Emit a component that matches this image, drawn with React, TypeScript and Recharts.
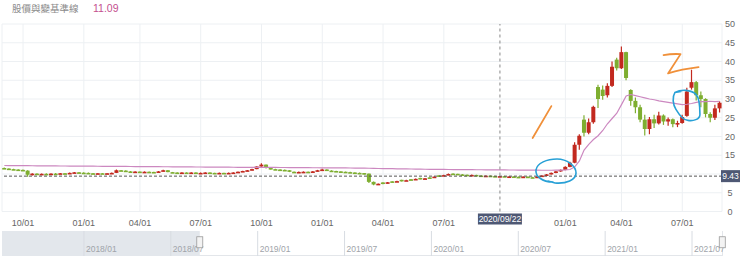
import {
  Area,
  Bar,
  CartesianGrid,
  ComposedChart,
  Line,
  ReferenceDot,
  ReferenceLine,
  XAxis,
  YAxis,
} from "recharts"

// 週 K（週一日期），略過 2019/02/04、2021/02/08 兩個春節休市週
const weeks = [
  "2018/09/03", "2018/09/10", "2018/09/17", "2018/09/24", "2018/10/01", "2018/10/08", "2018/10/15", "2018/10/22", "2018/10/29", "2018/11/05",
  "2018/11/12", "2018/11/19", "2018/11/26", "2018/12/03", "2018/12/10", "2018/12/17", "2018/12/24", "2018/12/31", "2019/01/07", "2019/01/14",
  "2019/01/21", "2019/01/28", "2019/02/11", "2019/02/18", "2019/02/25", "2019/03/04", "2019/03/11", "2019/03/18", "2019/03/25", "2019/04/01",
  "2019/04/08", "2019/04/15", "2019/04/22", "2019/04/29", "2019/05/06", "2019/05/13", "2019/05/20", "2019/05/27", "2019/06/03", "2019/06/10",
  "2019/06/17", "2019/06/24", "2019/07/01", "2019/07/08", "2019/07/15", "2019/07/22", "2019/07/29", "2019/08/05", "2019/08/12", "2019/08/19",
  "2019/08/26", "2019/09/02", "2019/09/09", "2019/09/16", "2019/09/23", "2019/09/30", "2019/10/07", "2019/10/14", "2019/10/21", "2019/10/28",
  "2019/11/04", "2019/11/11", "2019/11/18", "2019/11/25", "2019/12/02", "2019/12/09", "2019/12/16", "2019/12/23", "2019/12/30", "2020/01/06",
  "2020/01/13", "2020/01/20", "2020/01/27", "2020/02/03", "2020/02/10", "2020/02/17", "2020/02/24", "2020/03/02", "2020/03/09", "2020/03/16",
  "2020/03/23", "2020/03/30", "2020/04/06", "2020/04/13", "2020/04/20", "2020/04/27", "2020/05/04", "2020/05/11", "2020/05/18", "2020/05/25",
  "2020/06/01", "2020/06/08", "2020/06/15", "2020/06/22", "2020/06/29", "2020/07/06", "2020/07/13", "2020/07/20", "2020/07/27", "2020/08/03",
  "2020/08/10", "2020/08/17", "2020/08/24", "2020/08/31", "2020/09/07", "2020/09/14", "2020/09/21", "2020/09/28", "2020/10/05", "2020/10/12",
  "2020/10/19", "2020/10/26", "2020/11/02", "2020/11/09", "2020/11/16", "2020/11/23", "2020/11/30", "2020/12/07", "2020/12/14", "2020/12/21",
  "2020/12/28", "2021/01/04", "2021/01/11", "2021/01/18", "2021/01/25", "2021/02/01", "2021/02/15", "2021/02/22", "2021/03/01", "2021/03/08",
  "2021/03/15", "2021/03/22", "2021/03/29", "2021/04/05", "2021/04/12", "2021/04/19", "2021/04/26", "2021/05/03", "2021/05/10", "2021/05/17",
  "2021/05/24", "2021/05/31", "2021/06/07", "2021/06/14", "2021/06/21", "2021/06/28", "2021/07/05", "2021/07/12", "2021/07/19", "2021/07/26",
  "2021/08/02", "2021/08/09", "2021/08/16", "2021/08/23",
]

const opens = [
  11.6, 11.45, 11.3, 11.2, 11.1, 10.9, 9.8, 10.1, 9.9, 10.05,
  10.0, 10.1, 10.05, 10.2, 10.1, 10.3, 10.45, 10.35, 10.3, 10.2,
  10.1, 10.2, 10.1, 10.2, 10.3, 11.0, 10.9, 10.7, 10.6, 10.65,
  10.5, 10.6, 10.55, 10.5, 10.7, 11.0, 10.5, 10.4, 10.3, 10.4,
  10.3, 10.4, 10.2, 10.3, 10.4, 10.3, 10.2, 10.3, 10.2, 10.3,
  10.4, 10.6, 10.8, 11.0, 11.3, 12.0, 12.5, 11.6, 11.3, 11.2,
  11.1, 11.0, 10.6, 10.5, 10.55, 10.6, 10.55, 10.7, 11.0, 11.2,
  10.9, 10.8, 10.7, 10.6, 10.5, 10.4, 10.3, 10.25, 10.1, 7.9,
  7.2, 7.75, 7.6, 8.05, 7.9, 8.45, 8.3, 8.6, 8.5, 8.95,
  8.8, 9.1, 9.0, 9.65, 9.5, 9.7, 10.1, 10.05, 9.9, 9.8,
  9.7, 9.75, 9.6, 9.5, 9.55, 9.45, 9.4, 9.43, 9.3, 9.35,
  9.25, 9.2, 9.3, 9.15, 9.1, 9.3, 9.6, 9.9, 10.3, 10.7,
  11.1, 11.9, 13.0, 17.8, 24.5, 21.0, 23.8, 33.2, 32.5, 31.0,
  33.5, 40.5, 38.2, 42.5, 32.4, 29.5, 27.8, 24.5, 22.0, 24.6,
  23.5, 25.6, 24.0, 24.6, 23.3, 23.6, 25.5, 33.0, 34.5, 31.0,
  30.0, 26.0, 25.0, 27.5,
]

const highs = [
  11.75, 11.55, 11.4, 11.3, 11.2, 11.0, 10.2, 10.2, 10.15, 10.2,
  10.2, 10.25, 10.3, 10.3, 10.4, 10.55, 10.55, 10.45, 10.4, 10.3,
  10.3, 10.25, 10.3, 10.4, 11.2, 11.1, 11.0, 10.8, 10.75, 10.7,
  10.7, 10.7, 10.6, 10.8, 11.15, 11.05, 10.55, 10.5, 10.5, 10.45,
  10.5, 10.45, 10.4, 10.5, 10.45, 10.35, 10.4, 10.35, 10.4, 10.5,
  10.7, 10.9, 11.1, 11.4, 12.1, 12.9, 12.55, 11.7, 11.4, 11.3,
  11.2, 11.05, 10.7, 10.65, 10.7, 10.7, 10.8, 11.1, 11.4, 11.25,
  11.0, 10.85, 10.75, 10.65, 10.6, 10.5, 10.4, 10.3, 10.15, 8.0,
  7.5, 7.8, 7.9, 8.1, 8.2, 8.5, 8.5, 8.65, 8.8, 9.0,
  8.95, 9.15, 9.35, 9.7, 9.8, 10.15, 10.2, 10.1, 10.0, 9.9,
  9.85, 9.8, 9.7, 9.6, 9.6, 9.55, 9.5, 9.5, 9.4, 9.4,
  9.35, 9.4, 9.35, 9.25, 9.35, 9.65, 10.0, 10.4, 10.8, 11.2,
  12.1, 13.3, 18.5, 20.6, 25.7, 24.8, 28.2, 33.8, 33.6, 34.2,
  40.0, 41.0, 44.0, 42.6, 32.6, 30.4, 28.5, 25.8, 25.2, 25.8,
  26.6, 25.9, 25.1, 24.8, 24.2, 25.8, 33.0, 37.8, 34.8, 32.0,
  30.2, 26.5, 28.5, 29.4,
]

const lows = [
  11.4, 11.2, 11.1, 11.0, 10.8, 9.3, 9.6, 9.8, 9.8, 9.9,
  9.9, 9.95, 10.0, 10.0, 10.05, 10.25, 10.3, 10.2, 10.1, 10.0,
  10.05, 10.0, 10.05, 10.1, 10.25, 10.8, 10.6, 10.5, 10.5, 10.4,
  10.45, 10.5, 10.4, 10.45, 10.65, 10.45, 10.3, 10.2, 10.25, 10.2,
  10.25, 10.1, 10.15, 10.25, 10.2, 10.1, 10.15, 10.1, 10.15, 10.25,
  10.35, 10.55, 10.75, 10.95, 11.25, 11.95, 11.5, 11.2, 11.1, 11.0,
  10.9, 10.5, 10.4, 10.4, 10.45, 10.5, 10.5, 10.65, 10.95, 10.8,
  10.7, 10.6, 10.5, 10.4, 10.3, 10.2, 10.15, 9.9, 7.6, 7.0,
  7.05, 7.3, 7.5, 7.65, 7.85, 8.0, 8.2, 8.3, 8.45, 8.6,
  8.7, 8.8, 8.95, 9.2, 9.45, 9.65, 9.9, 9.8, 9.75, 9.6,
  9.65, 9.55, 9.45, 9.4, 9.35, 9.3, 9.3, 9.25, 9.2, 9.2,
  9.1, 9.15, 9.1, 9.0, 9.05, 9.25, 9.55, 9.85, 10.2, 10.6,
  11.0, 11.8, 12.9, 16.5, 20.0, 20.6, 23.4, 27.6, 29.8, 30.4,
  33.2, 37.6, 38.0, 35.0, 28.2, 26.2, 23.8, 20.3, 20.6, 22.3,
  23.2, 23.1, 22.9, 22.5, 22.5, 23.4, 25.3, 32.5, 29.6, 27.8,
  25.1, 23.8, 24.4, 26.4,
]

const closes = [
  11.45, 11.3, 11.2, 11.1, 10.95, 9.8, 10.1, 9.9, 10.05, 10.0,
  10.1, 10.05, 10.2, 10.1, 10.3, 10.45, 10.35, 10.3, 10.2, 10.1,
  10.2, 10.1, 10.2, 10.3, 11.0, 10.9, 10.7, 10.6, 10.65, 10.5,
  10.6, 10.55, 10.5, 10.7, 11.0, 10.5, 10.4, 10.3, 10.4, 10.3,
  10.4, 10.2, 10.3, 10.4, 10.3, 10.2, 10.3, 10.2, 10.3, 10.4,
  10.6, 10.8, 11.0, 11.3, 12.0, 12.5, 11.6, 11.3, 11.2, 11.1,
  11.0, 10.6, 10.5, 10.55, 10.6, 10.55, 10.7, 11.0, 11.2, 10.9,
  10.8, 10.7, 10.6, 10.5, 10.4, 10.3, 10.25, 10.1, 7.9, 7.2,
  7.4, 7.6, 7.8, 7.9, 8.1, 8.3, 8.35, 8.5, 8.7, 8.8,
  8.85, 9.0, 9.3, 9.5, 9.7, 10.0, 10.05, 9.9, 9.8, 9.7,
  9.75, 9.6, 9.5, 9.55, 9.45, 9.4, 9.43, 9.3, 9.35, 9.25,
  9.2, 9.3, 9.15, 9.1, 9.3, 9.6, 9.9, 10.3, 10.7, 11.1,
  11.9, 13.0, 17.8, 20.2, 21.0, 23.8, 27.9, 30.0, 30.8, 33.5,
  38.6, 38.2, 42.5, 35.6, 29.5, 27.8, 24.5, 22.0, 24.6, 23.5,
  25.6, 24.0, 24.6, 23.3, 23.6, 25.2, 32.0, 34.5, 31.0, 30.0,
  26.0, 25.0, 27.5, 29.0,
]

// 基準線
const baseline = [
  12.26, 12.25, 12.24, 12.24, 12.23, 12.21, 12.2, 12.19, 12.18, 12.17,
  12.16, 12.15, 12.14, 12.13, 12.12, 12.11, 12.1, 12.1, 12.09, 12.08,
  12.06, 12.05, 12.04, 12.03, 12.03, 12.02, 12.01, 12.0, 11.99, 11.98,
  11.97, 11.96, 11.95, 11.95, 11.94, 11.93, 11.92, 11.91, 11.9, 11.89,
  11.88, 11.87, 11.86, 11.85, 11.84, 11.84, 11.83, 11.82, 11.81, 11.8,
  11.79, 11.78, 11.78, 11.77, 11.77, 11.78, 11.77, 11.76, 11.75, 11.74,
  11.73, 11.72, 11.71, 11.7, 11.69, 11.68, 11.67, 11.66, 11.66, 11.65,
  11.64, 11.63, 11.62, 11.61, 11.6, 11.59, 11.58, 11.57, 11.53, 11.5,
  11.47, 11.45, 11.43, 11.41, 11.39, 11.37, 11.35, 11.33, 11.31, 11.29,
  11.27, 11.25, 11.24, 11.22, 11.21, 11.2, 11.19, 11.18, 11.17, 11.16,
  11.15, 11.14, 11.13, 11.12, 11.11, 11.1, 11.09, 11.08, 11.07, 11.06,
  11.05, 11.04, 11.03, 11.02, 11.01, 11.0, 11.0, 11.0, 11.01, 11.03,
  11.08, 11.2, 11.9, 13.5, 16.4, 17.9, 19.2, 20.2, 21.6, 23.4,
  24.8, 26.2, 28.5, 30.8, 31.2, 30.9, 30.6, 30.3, 30.0, 29.8,
  29.5, 29.3, 29.1, 28.9, 28.7, 28.5, 28.6, 28.8, 29.1, 29.3,
  29.3, 29.4, 29.3, 29.4,
]

const tickWeeks = [
  "2018/10/01", "2018/12/31", "2019/04/01", "2019/07/01", "2019/09/30", "2019/12/30",
  "2020/03/30", "2020/06/29", "2020/12/28", "2021/03/29", "2021/06/28",
]
const tickLabels = ["10/01", "01/01", "04/01", "07/01", "10/01", "01/01", "04/01", "07/01", "01/01", "04/01", "07/01"]
const yTicks = [0, 5, 10, 15, 20, 25, 30, 35, 40, 45, 50]

const lastPrice = 9.43
const baselineNow = 11.09
const crossWeek = "2020/09/21"
const crossLabel = "2020/09/22"

// 導覽列：以 2018/01 起算的月數
const navTicks = [0, 6, 12, 18, 24, 30, 36, 42]
const navLabels = ["2018/01", "2018/07", "2019/01", "2019/07", "2020/01", "2020/07", "2021/01", "2021/07"]
const navRange = [-5.66, 44.14]
const navWindowStart = 8.0

const RED = "#c2291f"
const GREEN = "#7eae30"
const FONT = "'Liberation Sans', Arial, sans-serif"

const rows = weeks.map((week, i) => ({
  week,
  range: [lows[i], highs[i]],
  open: opens[i],
  close: closes[i],
  high: highs[i],
  low: lows[i],
  base: baseline[i],
}))

// 視窗外（左側灰底）那段
const navShade = [
  { m: navRange[0], shade: 1 },
  { m: navWindowStart, shade: 1 },
]

function Candle(props: any) {
  const { x, y, width, height, payload } = props
  if (!payload) return null
  const top = Math.min(y, y + height)
  const h = Math.abs(height)
  const { open, close, high, low } = payload
  const color = close >= open ? RED : GREEN
  const k = high > low ? h / (high - low) : 0
  const bodyTop = top + (high - Math.max(open, close)) * k
  const bodyH = Math.max(1.6, Math.abs(open - close) * k)
  const cx = x + width / 2
  return (
    <g>
      <line x1={cx} x2={cx} y1={top} y2={top + h} stroke={color} strokeWidth={1.2} />
      <rect x={x} y={bodyTop} width={width} height={bodyH} fill={color} />
    </g>
  )
}

// 價格標籤蓋住的刻度不畫
const yTick = (p: any) => {
  const v = p.payload.value
  if (Math.abs(v - lastPrice) < 2) return <g />
  return (
    <text x={p.x + 8} y={p.y} dy={3} textAnchor="middle" fontSize={9} fill="#666" fontFamily={FONT}>
      {v}
    </text>
  )
}

const priceTag = (p: any) => {
  const { x, y, width } = p.viewBox
  const right = x + width
  return (
    <g>
      <rect x={right - 1} y={y - 6} width={19} height={12} fill="#4e5874" />
      <text x={right + 8.5} y={y + 3} textAnchor="middle" fontSize={8.5} fill="#fff" fontFamily={FONT}>
        {lastPrice}
      </text>
    </g>
  )
}

const dateTag = (p: any) => {
  const { x, y, height } = p.viewBox
  const bottom = y + height
  return (
    <g>
      <rect x={x - 22} y={bottom + 2} width={44} height={11} fill="#4e5874" />
      <text x={x} y={bottom + 10.5} textAnchor="middle" fontSize={8.5} fill="#fff" fontFamily={FONT}>
        {crossLabel}
      </text>
    </g>
  )
}

// 手繪的註記
const loopA = (p: any) => (
  <path
    transform={`translate(${p.cx},${p.cy})`}
    d="M-3,11 C-14,11 -21,5 -20,-1 C-19,-8 -9,-12 1,-12 C11,-12 20,-5 20,2 C20,9 10,13 -1,12 L-8,10"
    fill="none"
    stroke="#28a0d6"
    strokeWidth={1.6}
    strokeLinecap="round"
  />
)

const loopB = (p: any) => (
  <path
    transform={`translate(${p.cx},${p.cy})`}
    d="M-12,-13 C-6,-16 4,-16 9,-11 C13,-7 13,3 13,9 C13,14 6,16 1,15 C-3,15 -8,9 -11,4 C-14,-1 -15,-8 -12,-13 L-6,-14"
    fill="none"
    stroke="#28a0d6"
    strokeWidth={1.6}
    strokeLinecap="round"
  />
)

const markTwo = (p: any) => (
  <path
    transform={`translate(${p.cx},${p.cy})`}
    d="M0,0 Q8,-1.5 17,-1 L4.5,18.3 Q18,14 35,12"
    fill="none"
    stroke="#f0903a"
    strokeWidth={1.8}
    strokeLinecap="round"
    strokeLinejoin="round"
  />
)

const navTag = (label: string) => (p: any) => {
  const { x, y, height } = p.viewBox
  return (
    <text x={x + 2} y={y + height - 4} fontSize={8.5} fill="#a0a4aa" fontFamily={FONT}>
      {label}
    </text>
  )
}

const navHandle = (p: any) => (
  <rect x={p.cx - 3} y={p.cy - 5.5} width={6} height={11} fill="#f3f3f3" stroke="#9a9a9a" strokeWidth={0.8} />
)

export default function App() {
  return (
    <div style={{ position: "absolute", left: 0, top: 0, width: 740, height: 269, background: "#fff", overflow: "hidden" }}>
      <div
        style={{
          position: "absolute",
          left: 12,
          top: 2,
          fontSize: 9.5,
          color: "#8a8a8a",
          fontFamily: "'Noto Sans CJK TC', sans-serif",
          lineHeight: "13px",
        }}
      >
        股價與變基準線
      </div>
      <div
        style={{
          position: "absolute",
          left: 93,
          top: 2,
          fontSize: 10.5,
          color: "#c4508f",
          fontFamily: FONT,
          lineHeight: "13px",
        }}
      >
        {baselineNow}
      </div>

      <div style={{ position: "absolute", left: 0, top: 0 }}>
        <ComposedChart
          width={740}
          height={230}
          data={rows}
          margin={{ top: 24, right: 0, bottom: 0, left: 2 }}
          barCategoryGap="5%"
        >
          <CartesianGrid stroke="#edf0f3" />
          <XAxis
            dataKey="week"
            ticks={tickWeeks}
            interval={0}
            tickFormatter={(w) => tickLabels[tickWeeks.indexOf(w)] ?? ""}
            height={18.5}
            axisLine={false}
            tickLine={false}
            tickSize={0}
            tickMargin={8}
            tick={{ fontSize: 9, fill: "#666", fontFamily: FONT }}
          />
          <YAxis
            orientation="right"
            domain={[0, 50]}
            ticks={yTicks}
            interval={0}
            width={18}
            axisLine={false}
            tickLine={false}
            tickSize={0}
            tickMargin={0}
            tick={yTick}
          />
          <Bar dataKey="range" shape={Candle} isAnimationActive={false} />
          <Line
            dataKey="base"
            type="linear"
            stroke="#cc88c0"
            strokeWidth={1.2}
            dot={false}
            isAnimationActive={false}
          />
          <ReferenceLine y={lastPrice} stroke="#555" strokeDasharray="3 2" label={priceTag} />
          <ReferenceLine x={crossWeek} stroke="#888" strokeDasharray="3 3" label={dateTag} />
          <ReferenceLine
            segment={[
              { x: weeks[113], y: 19.6 },
              { x: weeks[117], y: 28.1 },
            ]}
            stroke="#f0903a"
            strokeWidth={1.8}
            strokeLinecap="round"
          />
          <ReferenceDot x={weeks[141]} y={41.7} shape={markTwo} />
          <ReferenceDot x={weeks[118]} y={10.8} shape={loopA} />
          <ReferenceDot x={weeks[146]} y={28.3} shape={loopB} />
        </ComposedChart>
      </div>

      <div
        style={{
          position: "absolute",
          left: 2,
          top: 231,
          width: 720,
          height: 24,
          background: "#ffffff",
          borderBottom: "1px solid #e3e6ea",
          borderRight: "1px solid #e3e6ea",
        }}
      />
      <div style={{ position: "absolute", left: 0, top: 231 }}>
        <ComposedChart
          width={740}
          height={25}
          data={navShade}
          margin={{ top: 0, right: 17, bottom: 0, left: 2 }}
        >
          <XAxis dataKey="m" type="number" domain={navRange} allowDataOverflow hide />
          <YAxis domain={[0, 1]} allowDataOverflow hide />
          <Area
            dataKey="shade"
            type="linear"
            stroke="none"
            fill="#e3e7ec"
            fillOpacity={1}
            isAnimationActive={false}
          />
          {navTicks.map((m, i) => (
            <ReferenceLine key={m} x={m} stroke="#d8dce2" label={navTag(navLabels[i])} />
          ))}
          <ReferenceDot x={navWindowStart} y={0.55} r={3} shape={navHandle} />
          <ReferenceDot x={navRange[1] - 0.05} y={0.55} r={3} shape={navHandle} />
        </ComposedChart>
      </div>
    </div>
  )
}
